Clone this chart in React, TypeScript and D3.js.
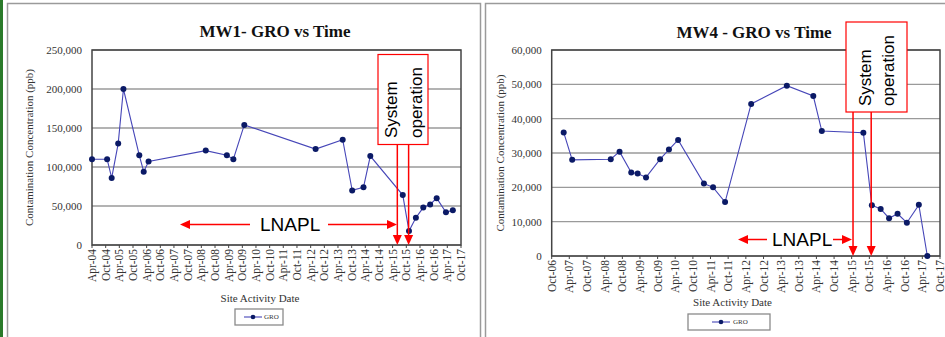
import React from "react";
import * as d3 from "d3";

// ---------- DATA ----------
const mw1Dates = [
  "2004-04-01", "2004-10-20", "2004-12-20", "2005-03-17", "2005-05-26",
  "2005-12-24", "2006-02-21", "2006-04-27", "2008-05-30", "2009-03-08",
  "2009-06-03", "2009-10-27", "2012-06-06", "2013-06-03", "2013-10-08",
  "2014-03-08", "2014-06-07", "2015-08-15", "2015-11-06", "2016-02-06",
  "2016-05-15", "2016-08-15", "2016-11-10", "2017-03-14", "2017-06-14",
];
const mw1Gro = [
  110000, 110000, 86000, 130000, 200000,
  115000, 94000, 107000, 121000, 115000,
  110000, 154000, 123000, 135000, 70000,
  74000, 114000, 64000, 18000, 35000,
  48000, 52000, 60000, 42000, 44500,
];
const mw1XTicks = [
  "Apr-04", "Oct-04", "Apr-05", "Oct-05", "Apr-06", "Oct-06", "Apr-07",
  "Oct-07", "Apr-08", "Oct-08", "Apr-09", "Oct-09", "Apr-10", "Oct-10",
  "Apr-11", "Oct-11", "Apr-12", "Oct-12", "Apr-13", "Oct-13", "Apr-14",
  "Oct-14", "Apr-15", "Oct-15", "Apr-16", "Oct-16", "Apr-17", "Oct-17",
];
const mw1YTicks = [0, 50000, 100000, 150000, 200000, 250000];
const mw1OperationDates = ["2015-06-03", "2015-11-01"];

const mw4Dates = [
  "2007-02-02", "2007-05-01", "2008-06-03", "2008-09-02", "2009-01-01",
  "2009-03-08", "2009-06-03", "2009-10-27", "2010-01-26", "2010-05-01",
  "2011-01-23", "2011-04-28", "2011-08-30", "2012-05-26", "2013-05-30",
  "2014-02-28", "2014-05-27", "2015-07-31", "2015-10-27", "2016-01-26",
  "2016-04-22", "2016-07-19", "2016-10-23", "2017-02-24", "2017-05-23",
];
const mw4Gro = [
  36000, 28000, 28200, 30400, 24300,
  24000, 22900, 28200, 31000, 33800,
  21100, 20000, 15700, 44300, 49600,
  46600, 36400, 35900, 14800, 13700,
  11000, 12300, 9700, 14900, 0,
];
const mw4XTicks = [
  "Oct-06", "Apr-07", "Oct-07", "Apr-08", "Oct-08", "Apr-09", "Oct-09",
  "Apr-10", "Oct-10", "Apr-11", "Oct-11", "Apr-12", "Oct-12", "Apr-13",
  "Oct-13", "Apr-14", "Oct-14", "Apr-15", "Oct-15", "Apr-16", "Oct-16",
  "Apr-17", "Oct-17",
];
const mw4YTicks = [0, 10000, 20000, 30000, 40000, 50000, 60000];
const mw4OperationDates = ["2015-04-15", "2015-10-20"];

const seriesName = "GRO";
const yAxisTitle = "Contamination Concentration (ppb)";
const xAxisTitle = "Site Activity Date";
const boxLines = ["System", "operation"];
const lnaplText = "LNAPL";

// ---------- STYLE ----------
const SERIF = "'Liberation Serif', 'Times New Roman', serif";
const SANS = "'Liberation Sans', Arial, sans-serif";
const LINE = "#4646b8";
const MARK = "#0b1a66";
const RED = "#ff0000";
const TXT = "#333";

const parseTick = d3.timeParse("%b-%y");
const parseDate = d3.timeParse("%Y-%m-%d");
const fmt = d3.format(",");

type Layout = {
  x0: number; x1: number; y0: number; y1: number;
  titleX: number; titleY: number;
  yTitleX: number; xTitleY: number; xTitleX: number;
  legend: { x: number; y: number; w: number; h: number; lx0: number; lx1: number; tx: number };
  box: { x: number; y: number; w: number; h: number; c1: number; c2: number; base: number };
  lnapl: { leftTip: number; leftEnd: number; textX: number; rightStart: number; rightTip: number; y: number };
};

function Panel(props: {
  title: string; dates: string[]; values: number[]; xTicks: string[]; yTicks: number[];
  opDates: string[]; L: Layout;
}) {
  const { title, dates, values, xTicks, yTicks, opDates, L } = props;
  const tickDates = xTicks.map((t) => parseTick(t) as Date);
  const x = d3.scaleTime().domain([tickDates[0], tickDates[tickDates.length - 1]]).range([L.x0, L.x1]);
  const y = d3.scaleLinear().domain([yTicks[0], yTicks[yTicks.length - 1]]).range([L.y1, L.y0]);
  const pts = dates.map((d, i) => ({ d: parseDate(d) as Date, v: values[i] }));
  const line = d3.line<{ d: Date; v: number }>().x((p) => x(p.d)).y((p) => y(p.v));
  const opX = opDates.map((d) => x(parseDate(d) as Date));
  const B = L.box;
  const N = L.lnapl;
  const arrowHead = (tx: number, ty: number, dir: "down" | "left" | "right") => {
    if (dir === "down") return `M${tx},${ty} L${tx - 4.5},${ty - 10} L${tx + 4.5},${ty - 10} Z`;
    if (dir === "left") return `M${tx},${ty} L${tx + 10},${ty - 4.5} L${tx + 10},${ty + 4.5} Z`;
    return `M${tx},${ty} L${tx - 10},${ty - 4.5} L${tx - 10},${ty + 4.5} Z`;
  };
  const legY = L.legend.y + L.legend.h / 2;
  return (
    <g>
      {/* title */}
      <text x={L.titleX} y={L.titleY} textAnchor="middle" fontFamily={SERIF} fontWeight="bold" fontSize={17} fill="#111">
        {title}
      </text>
      {/* gridlines */}
      {yTicks.map((t) => (
        <line key={"g" + t} x1={L.x0} x2={L.x1} y1={y(t)} y2={y(t)} stroke="#9a9a9a" strokeWidth={1.3} />
      ))}
      {/* frame */}
      <rect x={L.x0} y={L.y0} width={L.x1 - L.x0} height={L.y1 - L.y0} fill="none" stroke="#444" strokeWidth={1.5} />
      {/* y tick labels */}
      {yTicks.map((t) => (
        <text key={"yl" + t} x={L.x0 - 10} y={y(t)} dy="0.35em" textAnchor="end" fontFamily={SERIF} fontSize={11} fill={TXT}>
          {fmt(t)}
        </text>
      ))}
      {/* x ticks */}
      {tickDates.map((d, i) => (
        <g key={"xt" + i} transform={`translate(${x(d)},${L.y1})`}>
          <line y1={0} y2={3} stroke="#444" strokeWidth={1} />
          <text transform="translate(0,4) rotate(-90)" dy="0.35em" textAnchor="end" fontFamily={SERIF} fontSize={11.5} fill={TXT}>
            {xTicks[i]}
          </text>
        </g>
      ))}
      {/* axis titles */}
      <text transform={`translate(${L.yTitleX},${(L.y0 + L.y1) / 2}) rotate(-90)`} textAnchor="middle" fontFamily={SERIF} fontSize={11} fill={TXT}>
        {yAxisTitle}
      </text>
      <text x={L.xTitleX} y={L.xTitleY} textAnchor="middle" fontFamily={SERIF} fontSize={11} fill={TXT}>
        {xAxisTitle}
      </text>
      {/* series */}
      <path d={line(pts) || ""} fill="none" stroke={LINE} strokeWidth={1.1} />
      {pts.map((p, i) => (
        <circle key={"c" + i} cx={x(p.d)} cy={y(p.v)} r={3} fill={MARK} />
      ))}
      {/* legend */}
      <rect x={L.legend.x} y={L.legend.y} width={L.legend.w} height={L.legend.h} fill="#fff" stroke="#8a8a8a" strokeWidth={1.3} />
      <line x1={L.legend.lx0} x2={L.legend.lx1} y1={legY} y2={legY} stroke={LINE} strokeWidth={1.1} />
      <circle cx={(L.legend.lx0 + L.legend.lx1) / 2} cy={legY} r={2.3} fill={MARK} />
      <text x={L.legend.tx} y={legY} dy="0.35em" fontFamily={SERIF} fontSize={7} fill={TXT}>
        {seriesName}
      </text>
      {/* system operation box */}
      <rect x={B.x} y={B.y} width={B.w} height={B.h} fill="#fff" stroke={RED} strokeWidth={1.2} />
      {boxLines.map((s, i) => (
        <text key={s} transform={`translate(${i === 0 ? B.c1 : B.c2},${B.base}) rotate(-90)`} dy="0.35em" textAnchor="start" fontFamily={SANS} fontSize={17} fill="#000">
          {s}
        </text>
      ))}
      {opX.map((ox, i) => (
        <g key={"op" + i}>
          <line x1={ox} x2={ox} y1={B.y + B.h} y2={L.y1 - 9} stroke={RED} strokeWidth={1.5} />
          <path d={arrowHead(ox, L.y1, "down")} fill={RED} />
        </g>
      ))}
      {/* LNAPL */}
      <line x1={N.leftTip + 9} x2={N.leftEnd} y1={N.y} y2={N.y} stroke={RED} strokeWidth={1.5} />
      <path d={arrowHead(N.leftTip, N.y, "left")} fill={RED} />
      <line x1={N.rightStart} x2={N.rightTip - 9} y1={N.y} y2={N.y} stroke={RED} strokeWidth={1.5} />
      <path d={arrowHead(N.rightTip, N.y, "right")} fill={RED} />
      <text x={N.textX} y={N.y} dy="0.35em" fontFamily={SANS} fontSize={19} fill="#000">
        {lnaplText}
      </text>
    </g>
  );
}

const leftLayout: Layout = {
  x0: 92, x1: 461, y0: 50, y1: 245,
  titleX: 275, titleY: 37,
  yTitleX: 33, xTitleX: 260, xTitleY: 302,
  legend: { x: 235, y: 309, w: 48, h: 16, lx0: 244, lx1: 262, tx: 264 },
  box: { x: 378, y: 54.5, w: 50, h: 90, c1: 391.5, c2: 416.5, base: 138 },
  lnapl: { leftTip: 180, leftEnd: 250, textX: 260, rightStart: 328, rightTip: 397, y: 224.5 },
};

const rightLayout: Layout = {
  x0: 551.7, x1: 940, y0: 50, y1: 256,
  titleX: 754, titleY: 38,
  yTitleX: 504, xTitleX: 732.5, xTitleY: 306,
  legend: { x: 688, y: 314, w: 82, h: 16, lx0: 712, lx1: 730, tx: 733 },
  box: { x: 846, y: 22, w: 61, h: 90, c1: 865, c2: 888.5, base: 106 },
  lnapl: { leftTip: 738, leftEnd: 767, textX: 772, rightStart: 833, rightTip: 852, y: 239.5 },
};

export default function App() {
  return (
    <svg width={945} height={337} style={{ position: "absolute", left: 0, top: 0, background: "#fff" }}>
      <rect x={0} y={0} width={945} height={337} fill="#fff" />
      {/* left green strip */}
      <rect x={0} y={0} width={3} height={337} fill="#2a7a2a" />
      {/* panel frames */}
      <path d="M7.5,337 L7.5,3.5 L480.5,3.5 L480.5,337" fill="none" stroke="#9a9a9a" strokeWidth={1.5} />
      <path d="M485.5,337 L485.5,3.5 L945,3.5" fill="none" stroke="#9a9a9a" strokeWidth={1.5} />
      <Panel title="MW1- GRO vs Time" dates={mw1Dates} values={mw1Gro} xTicks={mw1XTicks} yTicks={mw1YTicks} opDates={mw1OperationDates} L={leftLayout} />
      <Panel title="MW4 - GRO vs Time" dates={mw4Dates} values={mw4Gro} xTicks={mw4XTicks} yTicks={mw4YTicks} opDates={mw4OperationDates} L={rightLayout} />
    </svg>
  );
}
